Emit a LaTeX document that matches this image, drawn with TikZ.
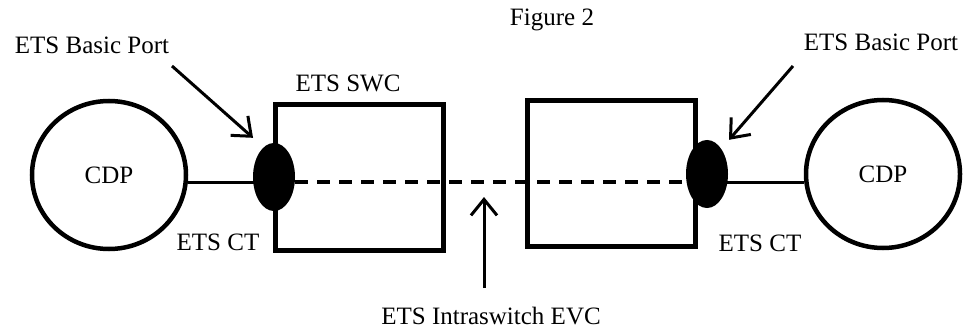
\documentclass[tikz,border=0pt]{standalone}
\usepackage{fontspec}
\setmainfont{Liberation Serif}
\usetikzlibrary{arrows.meta,shapes.geometric}

\begin{document}
\begin{tikzpicture}[x=1pt, y=-1pt,
    txt/.style={font=\fontsize{25}{30}\selectfont, inner sep=0pt},
    cdp/.style={draw, ellipse, line width=4.5pt, minimum width=154pt, minimum height=148pt, inner sep=0pt, font=\fontsize{25}{30}\selectfont},
    port/.style={ellipse, fill=black, minimum width=42pt, minimum height=68pt, inner sep=0pt},
    swc/.style={draw, rectangle, line width=5pt, minimum width=168pt, minimum height=146pt, inner sep=0pt},
    conn/.style={line width=3pt},
    evc/.style={line width=4pt, dash pattern=on 13pt off 9pt},
    arr/.style={line width=3pt, -{Straight Barb[length=16pt, width=26pt, line width=3pt]}}]
  \useasboundingbox (0,0) rectangle (965,331);

  \node[swc] (SWCL) at (359,177.5) {};
  \node[swc] (SWCR) at (611,173.5) {};
  \node[cdp] (CDPL) at (109,175) {CDP};
  \node[cdp] (CDPR) at (883,174) {CDP};

  \coordinate (Y) at (0,182);
  \draw[conn] (CDPL.east |- Y) -- (SWCL.west |- Y);
  \draw[conn] (CDPR.west |- Y) -- (SWCR.east |- Y);
  \node[port] (PortL) at (274,177) {};
  \node[port] (PortR) at (707,174) {};
  \draw[evc] (PortL.east |- Y) -- (PortR.west |- Y);

  \node[txt] (Fig)   at (552,20)  {Figure 2};
  \node[txt] (BPL)   at (92,45)   {ETS Basic Port};
  \node[txt] (BPR)   at (881,42)  {ETS Basic Port};
  \node[txt] (SWCLab) at (348,83) {ETS SWC};
  \node[txt] (CTL)   at (218,242) {ETS CT};
  \node[txt] (CTR)   at (760,243) {ETS CT};
  \node[txt] (EVC)   at (491,316) {ETS Intraswitch EVC};

  \coordinate (BPLtail) at (172,66);
  \coordinate (BPRtail) at (793,66);
  \coordinate (EVCtail) at (484,288);
  \coordinate (EVCtip)  at (484,197);
  \draw[arr] (BPLtail) -- ([xshift=-6pt, yshift=15pt]PortL.north west);
  \draw[arr] (BPRtail) -- ([xshift=7pt, yshift=10pt]PortR.north east);
  \draw[arr] (EVCtail) -- (EVCtip);
\end{tikzpicture}
\end{document}
